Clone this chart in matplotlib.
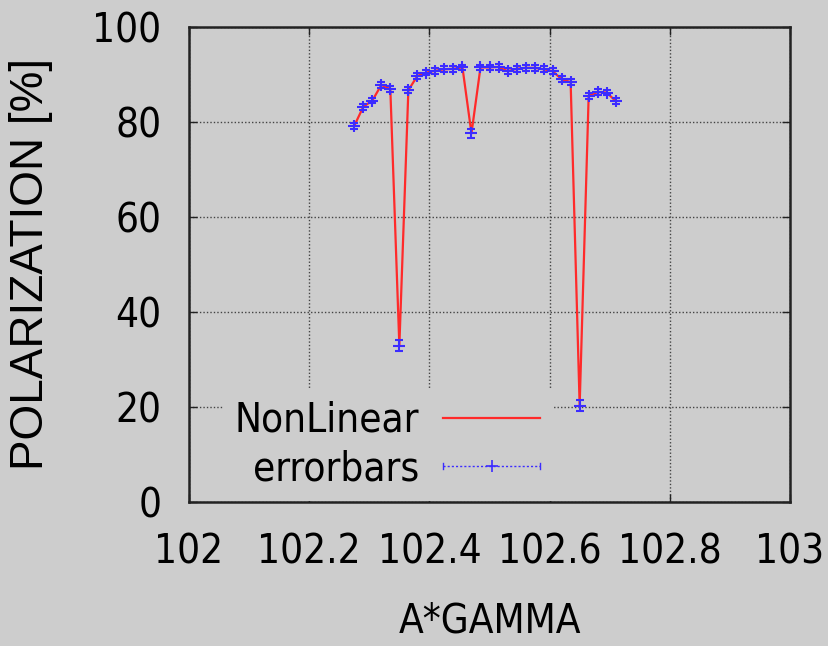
import matplotlib
matplotlib.use("Agg")
import matplotlib.pyplot as plt
from matplotlib import font_manager
from matplotlib.lines import Line2D
from matplotlib.legend_handler import HandlerLine2D

# data
agamma = [102.275, 102.29, 102.305, 102.32, 102.335, 102.35, 102.365, 102.38,
          102.395, 102.41, 102.425, 102.44, 102.455, 102.47, 102.485, 102.5,
          102.515, 102.53, 102.545, 102.56, 102.575, 102.59, 102.605, 102.62,
          102.635, 102.65, 102.665, 102.68, 102.695, 102.71]
polarization = [79.2, 83.2, 84.5, 87.8, 86.9, 32.9, 86.7, 89.7,
                90.4, 90.8, 91.1, 91.2, 91.5, 77.6, 91.5, 91.5,
                91.6, 90.7, 91.2, 91.4, 91.4, 91.1, 90.7, 89.0,
                88.4, 20.3, 85.5, 86.3, 86.2, 84.4]
pol_err = [0.6, 0.6, 0.6, 0.6, 0.6, 1.2, 0.6, 0.6,
           0.6, 0.6, 0.6, 0.6, 0.6, 1.0, 0.6, 0.6,
           0.6, 0.6, 0.6, 0.6, 0.6, 0.6, 0.6, 0.6,
           0.6, 1.2, 0.6, 0.6, 0.6, 0.6]
xticks = [102, 102.2, 102.4, 102.6, 102.8, 103]
xtick_labels = ["102", "102.2", "102.4", "102.6", "102.8", "103"]
yticks = [0, 20, 40, 60, 80, 100]

BG = "#cdcdcd"
RED = "#ff2a2a"
BLUE = "#3c2cff"

# the original text looks squeezed sideways, so look for a narrow face
fonts = font_manager.fontManager.ttflist
if any(f.name == "Liberation Sans Narrow" for f in fonts):
    narrow = dict(family=["Liberation Sans Narrow", "DejaVu Sans"], size=33)
elif any(f.name == "DejaVu Sans" and "condensed" in str(f.stretch) for f in fonts):
    narrow = dict(family=["DejaVu Sans"], stretch="condensed", size=29)
else:
    narrow = dict(family=["Liberation Sans", "DejaVu Sans"], size=27)
wide = dict(family=["Liberation Sans", "DejaVu Sans"], size=33)


class HandlerCapLine(HandlerLine2D):
    # dotted line with a marker in the middle and little end caps, gnuplot style
    def create_artists(self, legend, orig_handle, xdescent, ydescent,
                       width, height, fontsize, trans):
        arts = list(super().create_artists(legend, orig_handle, xdescent, ydescent,
                                           width, height, fontsize, trans))
        yc = height / 2 - ydescent
        h = 0.12 * height
        for xc in (-xdescent, width - xdescent):
            cap = Line2D([xc, xc], [yc - h, yc + h], color=orig_handle.get_color(), lw=1)
            cap.set_transform(trans)
            arts.append(cap)
        return arts


fig = plt.figure(figsize=(8.29, 6.46), dpi=100, facecolor=BG)
ax = fig.add_axes([189 / 829, 1 - 502 / 646, 601 / 829, 475 / 646])
ax.set_facecolor(BG)

ax.plot(agamma, polarization, color=RED, lw=1.6, zorder=3)
ax.errorbar(agamma, polarization, yerr=pol_err, fmt="+", color=BLUE, ms=8, mew=1.5,
            elinewidth=1.2, capsize=3, capthick=1.2, zorder=4)

ax.set_xlim(102, 103)
ax.set_ylim(0, 100)
ax.set_xticks(xticks)
ax.set_xticklabels(xtick_labels)
ax.set_yticks(yticks)
ax.grid(True, color="#444444", linestyle=(0, (1, 1.5)), lw=1)
ax.set_axisbelow(True)

ax.tick_params(direction="in", length=6, width=1, top=True, right=True, colors="#222222")
ax.tick_params(axis="x", pad=22)
ax.tick_params(axis="y", pad=20)
for lab in ax.get_xticklabels() + ax.get_yticklabels():
    lab.update(narrow)
    lab.set_color("black")
for sp in ax.spines.values():
    sp.set_linewidth(1.8)
    sp.set_color("#222222")

ax.set_xlabel("A*GAMMA", **narrow)
ax.xaxis.set_label_coords(0.5, -0.21)
ax.set_ylabel("POLARIZATION [%]", **wide)
ax.yaxis.set_label_coords(-0.226, 0.5)

h_red = Line2D([], [], color=RED, lw=1.6)
h_err = Line2D([], [], color=BLUE, ls=(0, (1.5, 1.5)), lw=1, marker="+", ms=8, mew=1.2)
leg = ax.legend([h_red, h_err], ["NonLinear", "errorbars"], loc="center",
                bbox_to_anchor=(0.33, 0.12), markerfirst=False, handlelength=2.4,
                handletextpad=0.6, labelspacing=0.2, borderpad=0.3,
                prop=font_manager.FontProperties(**narrow), frameon=True, fancybox=False,
                facecolor=BG, edgecolor="none", framealpha=1.0,
                handler_map={h_err: HandlerCapLine()})
for t in leg.get_texts():
    t.set_ha("right")
leg.set_zorder(5)

fig.savefig("out.png", dpi=100, facecolor=BG)
